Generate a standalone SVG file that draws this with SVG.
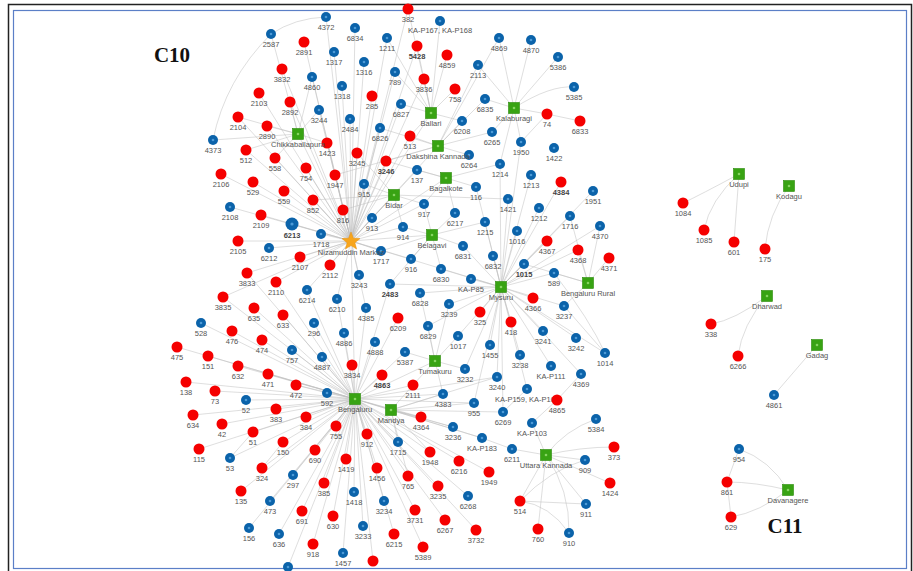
<svg xmlns="http://www.w3.org/2000/svg" xmlns:xlink="http://www.w3.org/1999/xlink" width="913" height="571" viewBox="0 0 913 571">
<style>
.t{font-family:"Liberation Sans",Arial,sans-serif;font-size:7.5px;fill:#555;text-anchor:middle}
.tb{font-weight:bold;fill:#444}
.e{fill:none;stroke:#bdbdbd;stroke-width:0.6;stroke-opacity:0.85}
.c{font-family:"Liberation Serif","Times New Roman",serif;font-weight:bold;font-size:21px;fill:#111;text-anchor:middle}
</style>
<defs>
<g id="b"><circle r="5" fill="#0b63aa"/><circle r="1.3" fill="#4c9ad6"/></g>
<g id="bb"><circle r="6.5" fill="#0b63aa"/><circle r="1.6" fill="#4c9ad6"/></g>
<circle id="r" r="5.5" fill="#f50000"/>
<g id="g"><rect x="-5.5" y="-5.5" width="11" height="11" fill="#38a313" stroke="#2a8a0a" stroke-width="0.6"/><circle r="1.3" fill="#86d462"/></g>
</defs>
<rect width="913" height="571" fill="#fff"/>
<rect x="8.5" y="4.5" width="903" height="600" fill="none" stroke="#222" stroke-width="1.5"/>
<rect x="13.5" y="10.5" width="893" height="558" fill="none" stroke="#5b7fc7" stroke-width="1.2"/>
<text class="c" x="172" y="62">C10</text>
<text class="c" x="785" y="533">C11</text>
<g id="connectors">
<path class="e" d="M351 241L326 17M351 241L355 28M351 241L387 38M351 241L334 52M351 241L364 62M351 241L395 72M351 241L342 86M351 241L372 96M351 241L401 104M351 241L350 119M351 241L380 128M351 241L319 110M351 241L312 77M351 241L304 42M351 241L282 69M351 241L259 93M351 241L290 102M351 241L238 117M351 241L267 126M351 241L327 143M351 241L246 150M351 241L275 158M351 241L306 168M351 241L335 175M351 241L357 153M351 241L386 161M351 241L410 136M351 241L221 174M351 241L253 182M351 241L284 191M351 241L313 200M351 241L343 210M351 241L372 218M351 241L364 184M351 241L230 207M351 241L261 215M351 241L292 224M351 241L321 234M351 241L238 241M351 241L269 248M351 241L300 257M351 241L330 265M351 241L381 251M351 241L359 275M351 241L247 273M351 241L276 282M351 241L307 290M351 241L223 297M351 241L337 299M351 241L366 308M351 241L411 259M351 241L403 227M351 241L424 204M351 241L417 170M351 241L408 9M351 241L417 46M351 241L424 79M351 241L394 195M351 241L432 235M351 241L355 399M351 241L501 287M351 241L298 134M351 241L438 146M351 241L446 178M351 241L431 113"/>
<path class="e" d="M298 134L213 140M298 134L238 117M298 134L267 126M298 134L246 150M298 134L319 110M298 134L327 143M298 134L290 102M298 134L312 77M298 134L275 158M298 134L271 34M271 34Q295 18 326 17M271 34Q225 80 213 140"/>
<path class="e" d="M431 113L401 104M431 113L424 79M431 113L455 89M431 113L447 55M431 113L417 46M431 113L408 9M431 113L440 21M431 113L462 121M431 113L410 136M431 113L395 72M431 113L387 38"/>
<path class="e" d="M438 146L410 136M438 146L469 155M438 146L462 121M438 146L386 161M438 146L478 65M438 146L485 99M438 146L492 132M438 146L335 175M438 146L380 128M438 146L499 38"/>
<path class="e" d="M514 108L499 38M514 108L531 40M514 108L558 57M514 108Q550 85 574 87M514 108L547 114M514 108L521 142M514 108L492 132M514 108L485 99M514 108L500 164M514 108L478 65M547 114L580 121M547 114L521 142"/>
<path class="e" d="M446 178L417 170M446 178L476 187M446 178L455 213M446 178L500 164M446 178L424 204M446 178L386 161"/>
<path class="e" d="M394 195L364 184M394 195L424 204M394 195L343 210M394 195L372 218M394 195L403 227M394 195L508 199M394 195L357 153M394 195L313 200"/>
<path class="e" d="M432 235L403 227M432 235L411 259M432 235L381 251M432 235L463 246M432 235L441 269M432 235L485 222M432 235L455 213M432 235L424 204M432 235L390 284"/>
<path class="e" d="M501 287L471 279M501 287L493 256M501 287L524 264M501 287L554 273M501 287L517 231M501 287L539 208M501 287L570 216M501 287L547 241M501 287L485 222M501 287L508 199M501 287L463 246M501 287L441 269M501 287L420 293M501 287L449 304M501 287L480 312M501 287L511 322M501 287L533 298M501 287L564 306M501 287L543 331M501 287L520 355M501 287L490 345M501 287L458 336M501 287L428 326M501 287L390 284M501 287L465 369M501 287L531 175M501 287L593 191M501 287L561 182M501 287L600 226M501 287L578 250M501 287L605 353M501 287L576 338M501 287L551 366M501 287L521 142M501 287L500 164M501 287L476 187M501 287L581 374M501 287L527 389M501 287L497 377M501 287L474 403M501 287L503 412"/>
<path class="e" d="M588 283L554 273M588 283L578 250M588 283L609 258M588 283L570 216M588 283L564 306M588 283L524 264M588 283L600 226M554 273Q590 320 605 353M564 306L605 353"/>
<path class="e" d="M435 361L405 352M435 361L465 369M435 361L428 326M435 361L458 336M435 361L420 293M435 361L449 304M435 361L443 394M435 361L413 385"/>
<path class="e" d="M355 399L327 393M355 399L322 357M355 399L292 350M355 399L314 323M355 399L344 333M355 399L375 342M355 399L352 365M355 399L382 375M355 399L413 385M355 399L296 385M355 399L268 374M355 399L262 340M355 399L232 331M355 399L201 323M355 399L177 347M355 399L208 356M355 399L238 366M355 399L186 382M355 399L215 391M355 399L246 400M355 399L193 415M355 399L276 409M355 399L306 417M355 399L222 424M355 399L253 432M355 399L199 449M355 399L283 442M355 399L230 458M355 399L315 450M355 399L262 468M355 399L241 491M355 399L293 475M355 399L270 501M355 399L249 528M355 399L279 534M355 399L302 511M355 399L324 483M355 399L313 544M355 399L333 516M355 399L343 553M355 399L354 492M355 399L363 526M355 399L346 459M355 399L336 426M355 399L367 434M355 399L377 468M355 399L384 501M355 399L398 442M355 399L408 476M355 399L415 510M355 399L394 534M355 399L423 547M355 399L438 486M355 399L445 520M355 399L476 530M355 399L468 496M355 399L430 452M355 399L459 461M355 399L489 472M355 399L421 417M355 399L443 394M355 399L474 403M355 399L453 427M355 399L398 318M355 399L283 315M355 399L254 308M355 399L337 299M355 399L366 308M355 399L405 352M355 399L288 567M355 399L373 561M355 399L307 290M355 399L276 282M355 399L247 273M355 399L223 297M355 399L390 284M355 399L482 438M355 399L497 377M355 399L391 410M355 399L435 361"/>
<path class="e" d="M391 410L421 417M391 410L443 394M391 410L453 427M391 410L398 442M391 410L474 403M391 410L482 438M391 410L497 377M391 410L503 412M391 410L413 385M391 410L408 476M391 410L430 452"/>
<path class="e" d="M546 455L512 449M546 455L532 423M546 455Q565 430 596 419M546 455Q580 447 614 447M546 455L585 460M546 455L610 483M546 455L586 504M546 455Q570 490 569 533M546 455L538 529M546 455L520 501M520 501Q550 470 585 460M520 501L586 504M520 501Q550 505 569 533M532 423L557 400M557 400L581 374M482 438L512 449M503 412L527 389M296 385L327 393M253 432L230 458M283 442L262 468"/>
<path class="e" d="M739 174Q700 195 683 203M739 174Q710 200 704 230M739 174L734 242M789 186Q768 215 765 249M767 296Q735 320 711 324M767 296Q742 325 738 356M817 345L774 395M788 490Q770 460 739 449M788 490Q755 482 727 482M788 490Q760 512 731 517M739 449L727 482M727 482L731 517"/>
</g>
<g id="n-4372"><use href="#b" x="326" y="17"/><text class="t" x="326" y="29.5">4372</text></g>
<g id="n-2587"><use href="#b" x="271" y="34"/><text class="t" x="271" y="46.5">2587</text></g>
<g id="n-6834"><use href="#b" x="355" y="28"/><text class="t" x="355" y="40.5">6834</text></g>
<g id="n-1211"><use href="#b" x="387" y="38"/><text class="t" x="387" y="50.5">1211</text></g>
<g id="n-KA-P167"><use href="#b" x="440" y="21"/><text class="t" x="440" y="33">KA-P167, KA-P168</text></g>
<g id="n-4869"><use href="#b" x="499" y="38"/><text class="t" x="499" y="50.5">4869</text></g>
<g id="n-4870"><use href="#b" x="531" y="40"/><text class="t" x="531" y="52.5">4870</text></g>
<g id="n-1317"><use href="#b" x="334" y="52"/><text class="t" x="334" y="64.5">1317</text></g>
<g id="n-2113"><use href="#b" x="478" y="65"/><text class="t" x="478" y="77.5">2113</text></g>
<g id="n-5386"><use href="#b" x="558" y="57"/><text class="t" x="558" y="69.5">5386</text></g>
<g id="n-4860"><use href="#b" x="312" y="77"/><text class="t" x="312" y="89.5">4860</text></g>
<g id="n-1316"><use href="#b" x="364" y="62"/><text class="t" x="364" y="74.5">1316</text></g>
<g id="n-789"><use href="#b" x="395" y="72"/><text class="t" x="395" y="84.5">789</text></g>
<g id="n-6835"><use href="#b" x="485" y="99"/><text class="t" x="485" y="111.5">6835</text></g>
<g id="n-5385"><use href="#b" x="574" y="87"/><text class="t" x="574" y="99.5">5385</text></g>
<g id="n-1318"><use href="#b" x="342" y="86"/><text class="t" x="342" y="98.5">1318</text></g>
<g id="n-6827"><use href="#b" x="401" y="104"/><text class="t" x="401" y="116.5">6827</text></g>
<g id="n-3244"><use href="#b" x="319" y="110"/><text class="t" x="319" y="122.5">3244</text></g>
<g id="n-2484"><use href="#b" x="350" y="119"/><text class="t" x="350" y="131.5">2484</text></g>
<g id="n-6208"><use href="#b" x="462" y="121"/><text class="t" x="462" y="133.5">6208</text></g>
<g id="n-6265"><use href="#b" x="492" y="132"/><text class="t" x="492" y="144.5">6265</text></g>
<g id="n-6826"><use href="#b" x="380" y="128"/><text class="t" x="380" y="140.5">6826</text></g>
<g id="n-4373"><use href="#b" x="213" y="140"/><text class="t" x="213" y="152.5">4373</text></g>
<g id="n-6264"><use href="#b" x="469" y="155"/><text class="t" x="469" y="167.5">6264</text></g>
<g id="n-1950"><use href="#b" x="521" y="142"/><text class="t" x="521" y="154.5">1950</text></g>
<g id="n-1422"><use href="#b" x="554" y="148"/><text class="t" x="554" y="160.5">1422</text></g>
<g id="n-137"><use href="#b" x="417" y="170"/><text class="t" x="417" y="182.5">137</text></g>
<g id="n-1214"><use href="#b" x="500" y="164"/><text class="t" x="500" y="176.5">1214</text></g>
<g id="n-1213"><use href="#b" x="531" y="175"/><text class="t" x="531" y="187.5">1213</text></g>
<g id="n-1951"><use href="#b" x="593" y="191"/><text class="t" x="593" y="203.5">1951</text></g>
<g id="n-915"><use href="#b" x="364" y="184"/><text class="t" x="364" y="196.5">915</text></g>
<g id="n-116"><use href="#b" x="476" y="187"/><text class="t" x="476" y="199.5">116</text></g>
<g id="n-917"><use href="#b" x="424" y="204"/><text class="t" x="424" y="216.5">917</text></g>
<g id="n-6217"><use href="#b" x="455" y="213"/><text class="t" x="455" y="225.5">6217</text></g>
<g id="n-1421"><use href="#b" x="508" y="199"/><text class="t" x="508" y="211.5">1421</text></g>
<g id="n-1212"><use href="#b" x="539" y="208"/><text class="t" x="539" y="220.5">1212</text></g>
<g id="n-1716"><use href="#b" x="570" y="216"/><text class="t" x="570" y="228.5">1716</text></g>
<g id="n-4370"><use href="#b" x="600" y="226"/><text class="t" x="600" y="238.5">4370</text></g>
<g id="n-2108"><use href="#b" x="230" y="207"/><text class="t" x="230" y="219.5">2108</text></g>
<g id="n-6213"><use href="#bb" x="292" y="224"/><text class="t tb" x="292" y="237.5">6213</text></g>
<g id="n-913"><use href="#b" x="372" y="218"/><text class="t" x="372" y="230.5">913</text></g>
<g id="n-914"><use href="#b" x="403" y="227"/><text class="t" x="403" y="239.5">914</text></g>
<g id="n-1215"><use href="#b" x="485" y="222"/><text class="t" x="485" y="234.5">1215</text></g>
<g id="n-1016"><use href="#b" x="517" y="231"/><text class="t" x="517" y="243.5">1016</text></g>
<g id="n-1718"><use href="#b" x="321" y="234"/><text class="t" x="321" y="246.5">1718</text></g>
<g id="n-6212"><use href="#b" x="269" y="248"/><text class="t" x="269" y="260.5">6212</text></g>
<g id="n-1717"><use href="#b" x="381" y="251"/><text class="t" x="381" y="263.5">1717</text></g>
<g id="n-6831"><use href="#b" x="463" y="246"/><text class="t" x="463" y="258.5">6831</text></g>
<g id="n-6832"><use href="#b" x="493" y="256"/><text class="t" x="493" y="268.5">6832</text></g>
<g id="n-916"><use href="#b" x="411" y="259"/><text class="t" x="411" y="271.5">916</text></g>
<g id="n-1015"><use href="#b" x="524" y="264"/><text class="t tb" x="524" y="276.5">1015</text></g>
<g id="n-589"><use href="#b" x="554" y="273"/><text class="t" x="554" y="285.5">589</text></g>
<g id="n-6830"><use href="#b" x="441" y="269"/><text class="t" x="441" y="281.5">6830</text></g>
<g id="n-3243"><use href="#b" x="359" y="275"/><text class="t" x="359" y="287.5">3243</text></g>
<g id="n-KA-P85"><use href="#b" x="471" y="279"/><text class="t" x="471" y="291.5">KA-P85</text></g>
<g id="n-2483"><use href="#b" x="390" y="284"/><text class="t tb" x="390" y="296.5">2483</text></g>
<g id="n-6214"><use href="#b" x="307" y="290"/><text class="t" x="307" y="302.5">6214</text></g>
<g id="n-6828"><use href="#b" x="420" y="293"/><text class="t" x="420" y="305.5">6828</text></g>
<g id="n-6210"><use href="#b" x="337" y="299"/><text class="t" x="337" y="311.5">6210</text></g>
<g id="n-3239"><use href="#b" x="449" y="304"/><text class="t" x="449" y="316.5">3239</text></g>
<g id="n-4385"><use href="#b" x="366" y="308"/><text class="t" x="366" y="320.5">4385</text></g>
<g id="n-3237"><use href="#b" x="564" y="306"/><text class="t" x="564" y="318.5">3237</text></g>
<g id="n-528"><use href="#b" x="201" y="323"/><text class="t" x="201" y="335.5">528</text></g>
<g id="n-296"><use href="#b" x="314" y="323"/><text class="t" x="314" y="335.5">296</text></g>
<g id="n-6829"><use href="#b" x="428" y="326"/><text class="t" x="428" y="338.5">6829</text></g>
<g id="n-3241"><use href="#b" x="543" y="331"/><text class="t" x="543" y="343.5">3241</text></g>
<g id="n-4886"><use href="#b" x="344" y="333"/><text class="t" x="344" y="345.5">4886</text></g>
<g id="n-1017"><use href="#b" x="458" y="336"/><text class="t" x="458" y="348.5">1017</text></g>
<g id="n-3242"><use href="#b" x="576" y="338"/><text class="t" x="576" y="350.5">3242</text></g>
<g id="n-4888"><use href="#b" x="375" y="342"/><text class="t" x="375" y="354.5">4888</text></g>
<g id="n-1014"><use href="#b" x="605" y="353"/><text class="t" x="605" y="365.5">1014</text></g>
<g id="n-757"><use href="#b" x="292" y="350"/><text class="t" x="292" y="362.5">757</text></g>
<g id="n-1455"><use href="#b" x="490" y="345"/><text class="t" x="490" y="357.5">1455</text></g>
<g id="n-4887"><use href="#b" x="322" y="357"/><text class="t" x="322" y="369.5">4887</text></g>
<g id="n-3238"><use href="#b" x="520" y="355"/><text class="t" x="520" y="367.5">3238</text></g>
<g id="n-5387"><use href="#b" x="405" y="352"/><text class="t" x="405" y="364.5">5387</text></g>
<g id="n-KA-P111"><use href="#b" x="551" y="366"/><text class="t" x="551" y="378.5">KA-P111</text></g>
<g id="n-4369"><use href="#b" x="581" y="374"/><text class="t" x="581" y="386.5">4369</text></g>
<g id="n-3232"><use href="#b" x="465" y="369"/><text class="t" x="465" y="381.5">3232</text></g>
<g id="n-3240"><use href="#b" x="497" y="377"/><text class="t" x="497" y="389.5">3240</text></g>
<g id="n-4383"><use href="#b" x="443" y="394"/><text class="t" x="443" y="406.5">4383</text></g>
<g id="n-KA-P159"><use href="#b" x="527" y="389"/><text class="t" x="527" y="401.5">KA-P159, KA-P103</text></g>
<g id="n-592"><use href="#b" x="327" y="393"/><text class="t" x="327" y="405.5">592</text></g>
<g id="n-52"><use href="#b" x="246" y="400"/><text class="t" x="246" y="412.5">52</text></g>
<g id="n-955"><use href="#b" x="474" y="403"/><text class="t" x="474" y="415.5">955</text></g>
<g id="n-6269"><use href="#b" x="503" y="412"/><text class="t" x="503" y="424.5">6269</text></g>
<g id="n-5384"><use href="#b" x="596" y="419"/><text class="t" x="596" y="431.5">5384</text></g>
<g id="n-KA-P103"><use href="#b" x="532" y="423"/><text class="t" x="532" y="435.5">KA-P103</text></g>
<g id="n-3236"><use href="#b" x="453" y="427"/><text class="t" x="453" y="439.5">3236</text></g>
<g id="n-KA-P183"><use href="#b" x="482" y="438"/><text class="t" x="482" y="450.5">KA-P183</text></g>
<g id="n-1715"><use href="#b" x="398" y="442"/><text class="t" x="398" y="454.5">1715</text></g>
<g id="n-6211"><use href="#b" x="512" y="449"/><text class="t" x="512" y="461.5">6211</text></g>
<g id="n-909"><use href="#b" x="585" y="460"/><text class="t" x="585" y="472.5">909</text></g>
<g id="n-53"><use href="#b" x="230" y="458"/><text class="t" x="230" y="470.5">53</text></g>
<g id="n-297"><use href="#b" x="293" y="475"/><text class="t" x="293" y="487.5">297</text></g>
<g id="n-1418"><use href="#b" x="354" y="492"/><text class="t" x="354" y="504.5">1418</text></g>
<g id="n-6268"><use href="#b" x="468" y="496"/><text class="t" x="468" y="508.5">6268</text></g>
<g id="n-473"><use href="#b" x="270" y="501"/><text class="t" x="270" y="513.5">473</text></g>
<g id="n-3234"><use href="#b" x="384" y="501"/><text class="t" x="384" y="513.5">3234</text></g>
<g id="n-911"><use href="#b" x="586" y="504"/><text class="t" x="586" y="516.5">911</text></g>
<g id="n-156"><use href="#b" x="249" y="528"/><text class="t" x="249" y="540.5">156</text></g>
<g id="n-3233"><use href="#b" x="363" y="526"/><text class="t" x="363" y="538.5">3233</text></g>
<g id="n-910"><use href="#b" x="569" y="533"/><text class="t" x="569" y="545.5">910</text></g>
<g id="n-636"><use href="#b" x="279" y="534"/><text class="t" x="279" y="546.5">636</text></g>
<g id="n-1457"><use href="#b" x="343" y="553"/><text class="t" x="343" y="565.5">1457</text></g>
<g id="n-bottom-blue"><use href="#b" x="288" y="567"/></g>
<g id="n-4861"><use href="#b" x="774" y="395"/><text class="t" x="774" y="407.5">4861</text></g>
<g id="n-954"><use href="#b" x="739" y="449"/><text class="t" x="739" y="461.5">954</text></g>
<g id="n-382"><use href="#r" x="408" y="9"/><text class="t" x="408" y="21.5">382</text></g>
<g id="n-2891"><use href="#r" x="304" y="42"/><text class="t" x="304" y="54.5">2891</text></g>
<g id="n-5428"><use href="#r" x="417" y="46"/><text class="t tb" x="417" y="58.5">5428</text></g>
<g id="n-4859"><use href="#r" x="447" y="55"/><text class="t" x="447" y="67.5">4859</text></g>
<g id="n-3832"><use href="#r" x="282" y="69"/><text class="t" x="282" y="81.5">3832</text></g>
<g id="n-3836"><use href="#r" x="424" y="79"/><text class="t" x="424" y="91.5">3836</text></g>
<g id="n-758"><use href="#r" x="455" y="89"/><text class="t" x="455" y="101.5">758</text></g>
<g id="n-2103"><use href="#r" x="259" y="93"/><text class="t" x="259" y="105.5">2103</text></g>
<g id="n-2892"><use href="#r" x="290" y="102"/><text class="t" x="290" y="114.5">2892</text></g>
<g id="n-285"><use href="#r" x="372" y="96"/><text class="t" x="372" y="108.5">285</text></g>
<g id="n-2104"><use href="#r" x="238" y="117"/><text class="t" x="238" y="129.5">2104</text></g>
<g id="n-2890"><use href="#r" x="267" y="126"/><text class="t" x="267" y="138.5">2890</text></g>
<g id="n-74"><use href="#r" x="547" y="114"/><text class="t" x="547" y="126.5">74</text></g>
<g id="n-6833"><use href="#r" x="580" y="121"/><text class="t" x="580" y="133.5">6833</text></g>
<g id="n-1423"><use href="#r" x="327" y="143"/><text class="t" x="327" y="155.5">1423</text></g>
<g id="n-513"><use href="#r" x="410" y="136"/><text class="t" x="410" y="148.5">513</text></g>
<g id="n-512"><use href="#r" x="246" y="150"/><text class="t" x="246" y="162.5">512</text></g>
<g id="n-558"><use href="#r" x="275" y="158"/><text class="t" x="275" y="170.5">558</text></g>
<g id="n-3245"><use href="#r" x="357" y="153"/><text class="t" x="357" y="165.5">3245</text></g>
<g id="n-3246"><use href="#r" x="386" y="161"/><text class="t tb" x="386" y="173.5">3246</text></g>
<g id="n-754"><use href="#r" x="306" y="168"/><text class="t" x="306" y="180.5">754</text></g>
<g id="n-1947"><use href="#r" x="335" y="175"/><text class="t" x="335" y="187.5">1947</text></g>
<g id="n-4384"><use href="#r" x="561" y="182"/><text class="t tb" x="561" y="194.5">4384</text></g>
<g id="n-2106"><use href="#r" x="221" y="174"/><text class="t" x="221" y="186.5">2106</text></g>
<g id="n-529"><use href="#r" x="253" y="182"/><text class="t" x="253" y="194.5">529</text></g>
<g id="n-559"><use href="#r" x="284" y="191"/><text class="t" x="284" y="203.5">559</text></g>
<g id="n-852"><use href="#r" x="313" y="200"/><text class="t" x="313" y="212.5">852</text></g>
<g id="n-2109"><use href="#r" x="261" y="215"/><text class="t" x="261" y="227.5">2109</text></g>
<g id="n-816"><use href="#r" x="343" y="210"/><text class="t" x="343" y="222.5">816</text></g>
<g id="n-4367"><use href="#r" x="547" y="241"/><text class="t" x="547" y="253.5">4367</text></g>
<g id="n-2105"><use href="#r" x="238" y="241"/><text class="t" x="238" y="253.5">2105</text></g>
<g id="n-4368"><use href="#r" x="578" y="250"/><text class="t" x="578" y="262.5">4368</text></g>
<g id="n-4371"><use href="#r" x="609" y="258"/><text class="t" x="609" y="270.5">4371</text></g>
<g id="n-2107"><use href="#r" x="300" y="257"/><text class="t" x="300" y="269.5">2107</text></g>
<g id="n-2112"><use href="#r" x="330" y="265"/><text class="t" x="330" y="277.5">2112</text></g>
<g id="n-3833"><use href="#r" x="247" y="273"/><text class="t" x="247" y="285.5">3833</text></g>
<g id="n-2110"><use href="#r" x="276" y="282"/><text class="t" x="276" y="294.5">2110</text></g>
<g id="n-3835"><use href="#r" x="223" y="297"/><text class="t" x="223" y="309.5">3835</text></g>
<g id="n-4366"><use href="#r" x="533" y="298"/><text class="t" x="533" y="310.5">4366</text></g>
<g id="n-325"><use href="#r" x="480" y="312"/><text class="t" x="480" y="324.5">325</text></g>
<g id="n-635"><use href="#r" x="254" y="308"/><text class="t" x="254" y="320.5">635</text></g>
<g id="n-633"><use href="#r" x="283" y="315"/><text class="t" x="283" y="327.5">633</text></g>
<g id="n-6209"><use href="#r" x="398" y="318"/><text class="t" x="398" y="330.5">6209</text></g>
<g id="n-418"><use href="#r" x="511" y="322"/><text class="t" x="511" y="334.5">418</text></g>
<g id="n-476"><use href="#r" x="232" y="331"/><text class="t" x="232" y="343.5">476</text></g>
<g id="n-474"><use href="#r" x="262" y="340"/><text class="t" x="262" y="352.5">474</text></g>
<g id="n-475"><use href="#r" x="177" y="347"/><text class="t" x="177" y="359.5">475</text></g>
<g id="n-151"><use href="#r" x="208" y="356"/><text class="t" x="208" y="368.5">151</text></g>
<g id="n-632"><use href="#r" x="238" y="366"/><text class="t" x="238" y="378.5">632</text></g>
<g id="n-3834"><use href="#r" x="352" y="365"/><text class="t" x="352" y="377.5">3834</text></g>
<g id="n-138"><use href="#r" x="186" y="382"/><text class="t" x="186" y="394.5">138</text></g>
<g id="n-471"><use href="#r" x="268" y="374"/><text class="t" x="268" y="386.5">471</text></g>
<g id="n-4863"><use href="#r" x="382" y="375"/><text class="t tb" x="382" y="387.5">4863</text></g>
<g id="n-2111"><use href="#r" x="413" y="385"/><text class="t" x="413" y="397.5">2111</text></g>
<g id="n-73"><use href="#r" x="215" y="391"/><text class="t" x="215" y="403.5">73</text></g>
<g id="n-472"><use href="#r" x="296" y="385"/><text class="t" x="296" y="397.5">472</text></g>
<g id="n-4865"><use href="#r" x="557" y="400"/><text class="t" x="557" y="412.5">4865</text></g>
<g id="n-383"><use href="#r" x="276" y="409"/><text class="t" x="276" y="421.5">383</text></g>
<g id="n-634"><use href="#r" x="193" y="415"/><text class="t" x="193" y="427.5">634</text></g>
<g id="n-384"><use href="#r" x="306" y="417"/><text class="t" x="306" y="429.5">384</text></g>
<g id="n-4364"><use href="#r" x="421" y="417"/><text class="t" x="421" y="429.5">4364</text></g>
<g id="n-42"><use href="#r" x="222" y="424"/><text class="t" x="222" y="436.5">42</text></g>
<g id="n-755"><use href="#r" x="336" y="426"/><text class="t" x="336" y="438.5">755</text></g>
<g id="n-51"><use href="#r" x="253" y="432"/><text class="t" x="253" y="444.5">51</text></g>
<g id="n-912"><use href="#r" x="367" y="434"/><text class="t" x="367" y="446.5">912</text></g>
<g id="n-150"><use href="#r" x="283" y="442"/><text class="t" x="283" y="454.5">150</text></g>
<g id="n-373"><use href="#r" x="614" y="447"/><text class="t" x="614" y="459.5">373</text></g>
<g id="n-115"><use href="#r" x="199" y="449"/><text class="t" x="199" y="461.5">115</text></g>
<g id="n-690"><use href="#r" x="315" y="450"/><text class="t" x="315" y="462.5">690</text></g>
<g id="n-1948"><use href="#r" x="430" y="452"/><text class="t" x="430" y="464.5">1948</text></g>
<g id="n-1419"><use href="#r" x="346" y="459"/><text class="t" x="346" y="471.5">1419</text></g>
<g id="n-6216"><use href="#r" x="459" y="461"/><text class="t" x="459" y="473.5">6216</text></g>
<g id="n-324"><use href="#r" x="262" y="468"/><text class="t" x="262" y="480.5">324</text></g>
<g id="n-1456"><use href="#r" x="377" y="468"/><text class="t" x="377" y="480.5">1456</text></g>
<g id="n-1949"><use href="#r" x="489" y="472"/><text class="t" x="489" y="484.5">1949</text></g>
<g id="n-765"><use href="#r" x="408" y="476"/><text class="t" x="408" y="488.5">765</text></g>
<g id="n-1424"><use href="#r" x="610" y="483"/><text class="t" x="610" y="495.5">1424</text></g>
<g id="n-3235"><use href="#r" x="438" y="486"/><text class="t" x="438" y="498.5">3235</text></g>
<g id="n-385"><use href="#r" x="324" y="483"/><text class="t" x="324" y="495.5">385</text></g>
<g id="n-135"><use href="#r" x="241" y="491"/><text class="t" x="241" y="503.5">135</text></g>
<g id="n-514"><use href="#r" x="520" y="501"/><text class="t" x="520" y="513.5">514</text></g>
<g id="n-691"><use href="#r" x="302" y="511"/><text class="t" x="302" y="523.5">691</text></g>
<g id="n-3731"><use href="#r" x="415" y="510"/><text class="t" x="415" y="522.5">3731</text></g>
<g id="n-630"><use href="#r" x="333" y="516"/><text class="t" x="333" y="528.5">630</text></g>
<g id="n-6267"><use href="#r" x="445" y="520"/><text class="t" x="445" y="532.5">6267</text></g>
<g id="n-760"><use href="#r" x="538" y="529"/><text class="t" x="538" y="541.5">760</text></g>
<g id="n-3732"><use href="#r" x="476" y="530"/><text class="t" x="476" y="542.5">3732</text></g>
<g id="n-6215"><use href="#r" x="394" y="534"/><text class="t" x="394" y="546.5">6215</text></g>
<g id="n-918"><use href="#r" x="313" y="544"/><text class="t" x="313" y="556.5">918</text></g>
<g id="n-5389"><use href="#r" x="423" y="547"/><text class="t" x="423" y="559.5">5389</text></g>
<g id="n-bottom-red"><use href="#r" x="373" y="561"/></g>
<g id="n-1084"><use href="#r" x="683" y="203"/><text class="t" x="683" y="215.5">1084</text></g>
<g id="n-1085"><use href="#r" x="704" y="230"/><text class="t" x="704" y="242.5">1085</text></g>
<g id="n-601"><use href="#r" x="734" y="242"/><text class="t" x="734" y="254.5">601</text></g>
<g id="n-175"><use href="#r" x="765" y="249"/><text class="t" x="765" y="261.5">175</text></g>
<g id="n-338"><use href="#r" x="711" y="324"/><text class="t" x="711" y="336.5">338</text></g>
<g id="n-6266"><use href="#r" x="738" y="356"/><text class="t" x="738" y="368.5">6266</text></g>
<g id="n-861"><use href="#r" x="727" y="482"/><text class="t" x="727" y="494.5">861</text></g>
<g id="n-629"><use href="#r" x="731" y="517"/><text class="t" x="731" y="529.5">629</text></g>
<g id="n-Ballari"><use href="#g" x="431" y="113"/><text class="t" x="431" y="126">Ballari</text></g>
<g id="n-Kalaburagi"><use href="#g" x="514" y="108"/><text class="t" x="514" y="121">Kalaburagi</text></g>
<g id="n-Chikkaballapura"><use href="#g" x="298" y="134"/><text class="t" x="298" y="147">Chikkaballapura</text></g>
<g id="n-DakshinaKannada"><use href="#g" x="438" y="146"/><text class="t" x="438" y="159">Dakshina Kannada</text></g>
<g id="n-Bagalkote"><use href="#g" x="446" y="178"/><text class="t" x="446" y="191">Bagalkote</text></g>
<g id="n-Bidar"><use href="#g" x="394" y="195"/><text class="t" x="394" y="208">Bidar</text></g>
<g id="n-Belagavi"><use href="#g" x="432" y="235"/><text class="t" x="432" y="248">Belagavi</text></g>
<g id="n-Mysuru"><use href="#g" x="501" y="287"/><text class="t" x="501" y="300">Mysuru</text></g>
<g id="n-BengaluruRural"><use href="#g" x="588" y="283"/><text class="t" x="588" y="296">Bengaluru Rural</text></g>
<g id="n-Tumakuru"><use href="#g" x="435" y="361"/><text class="t" x="435" y="374">Tumakuru</text></g>
<g id="n-Bengaluru"><use href="#g" x="355" y="399"/><text class="t" x="355" y="412">Bengaluru</text></g>
<g id="n-Mandya"><use href="#g" x="391" y="410"/><text class="t" x="391" y="423">Mandya</text></g>
<g id="n-UttaraKannada"><use href="#g" x="546" y="455"/><text class="t" x="546" y="468">Uttara Kannada</text></g>
<g id="n-Udupi"><use href="#g" x="739" y="174"/><text class="t" x="739" y="187">Udupi</text></g>
<g id="n-Kodagu"><use href="#g" x="789" y="186"/><text class="t" x="789" y="199">Kodagu</text></g>
<g id="n-Dharwad"><use href="#g" x="767" y="296"/><text class="t" x="767" y="309">Dharwad</text></g>
<g id="n-Gadag"><use href="#g" x="817" y="345"/><text class="t" x="817" y="358">Gadag</text></g>
<g id="n-Davanagere"><use href="#g" x="788" y="490"/><text class="t" x="788" y="503">Davanagere</text></g>
<g id="n-NizamuddinMarkaz"><polygon points="351,232 353.4,238.2 360,238.6 354.9,242.7 356.6,249.1 351,245.5 345.4,249.1 347.1,242.7 342,238.6 348.6,238.2" fill="#f7a51c" stroke="#e8900a" stroke-width="0.5"/><text class="t" x="351" y="255">Nizamuddin Markaz</text></g>
</svg>
